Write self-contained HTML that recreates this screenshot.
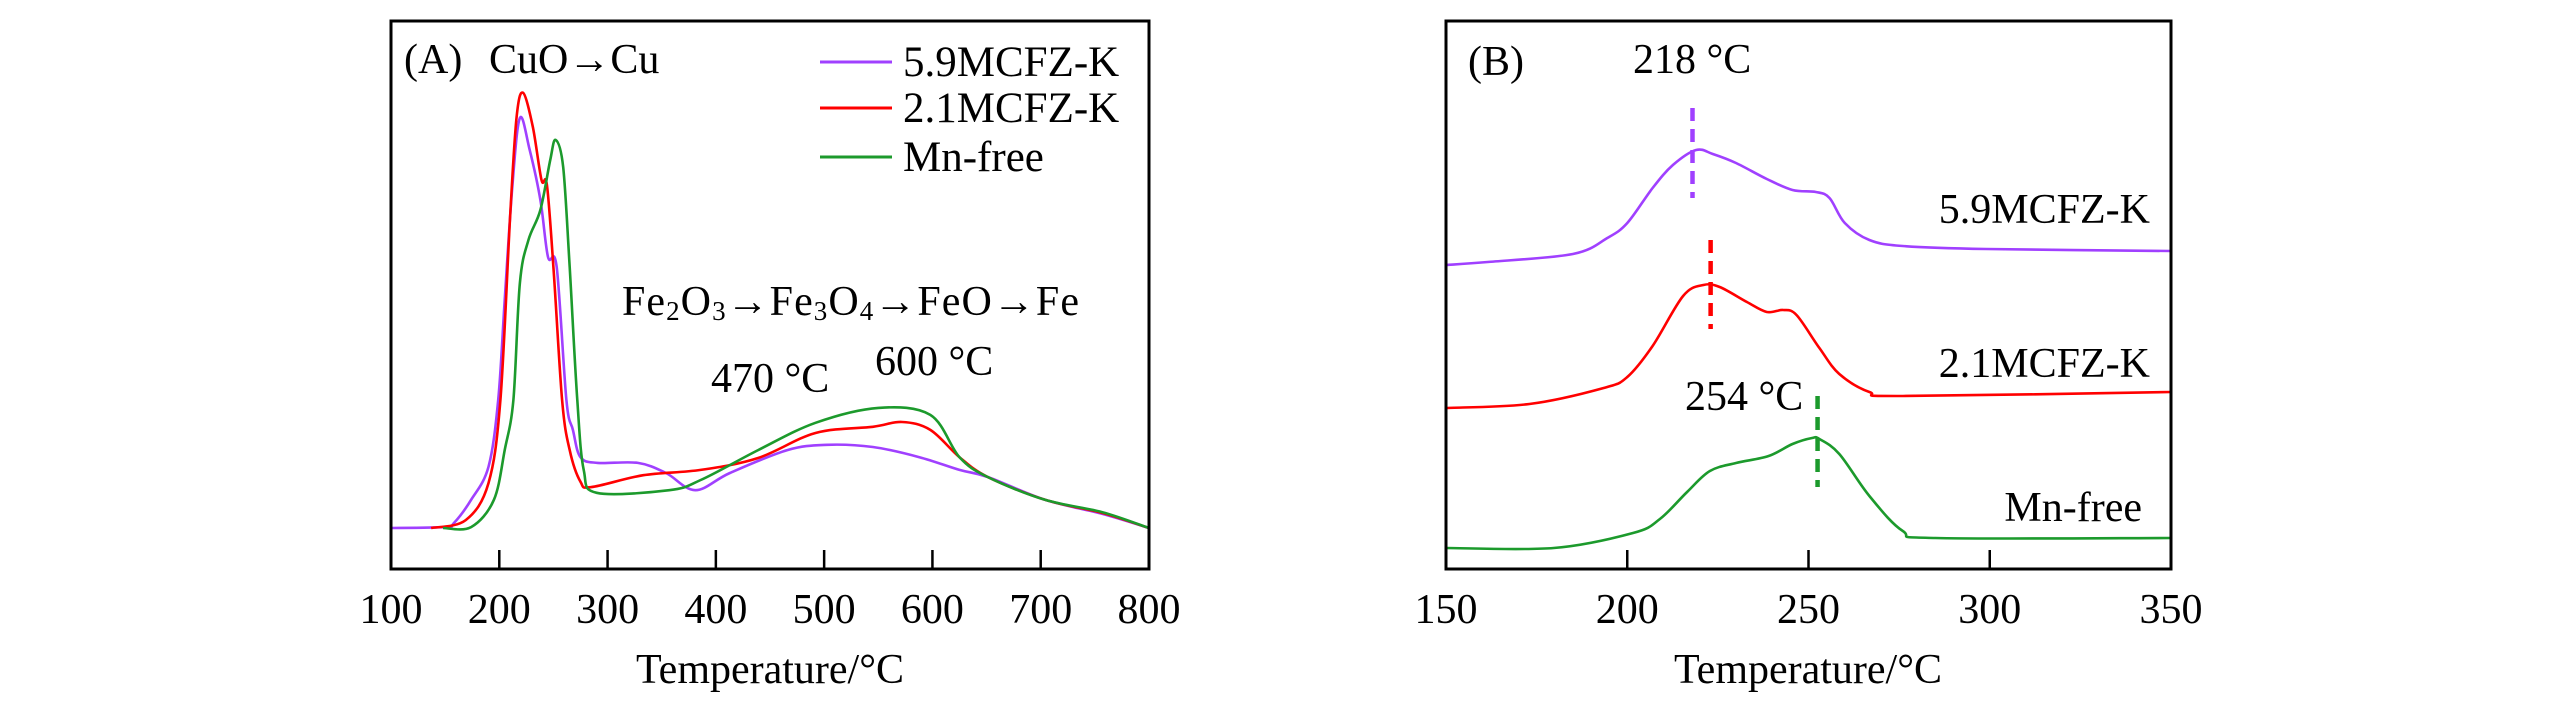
<!DOCTYPE html>
<html><head><meta charset="utf-8"><style>
html,body{margin:0;padding:0;background:#fff;}
svg{display:block;font-family:"Liberation Serif","Times New Roman",serif;}
</style></head><body>
<svg id="chart" width="2567" height="716" viewBox="0 0 2567 716" xmlns="http://www.w3.org/2000/svg">
<rect width="2567" height="716" fill="#fff"/>
<g id="panelA"></g>
<g id="panelB"></g>
</svg>
<script>
// ---- Panel A data ----
const aTicks = [100,200,300,400,500,600,700,800];
const aPurpleT = [100,150,158,174,190,199,205,212,219,228,238,245,253,262,268,275,291,328,354,381,413,466,503,545,588,625,651,704,757,800];
const aPurpleV = [0,0.2,1.1,6.4,13.9,29.1,51.8,77.5,93.2,86.0,74.5,61.6,59.3,29.1,22.3,16.1,14.8,14.8,12.5,8.6,12.5,17.7,18.9,18.4,16.1,13.2,11.6,6.4,3.2,0];
const aRedT = [137,169,190,201,210,216,222,231,239,244,250,258,265,275,285,333,386,439,492,545,572,598,625,651,704,757,800];
const aRedV = [0,1.8,10.2,29.1,70.7,93.4,98.9,91.1,79.1,78.0,59.3,29.1,17.7,10.5,9.3,12.0,13.2,15.9,21.6,23.0,24.1,22.3,16.1,11.6,6.4,3.4,0];
const aGreenT = [148,174,195,205,213,219,227,238,247,252,259,265,272,278,290,357,386,439,492,550,598,625,651,704,757,800];
const aGreenV = [0,0.2,6.4,17.7,29.1,55.7,65.5,72.3,83.6,88.2,82.0,59.3,29.1,13.2,8.0,8.6,10.9,17.7,23.9,27.3,25.7,16.1,11.6,6.4,3.6,0];
// ---- Panel B data ----
const bTicks = [150,200,250,300,350];
const bPurpleT = [150,161.5,185,194.5,200,207,212.6,219,223.6,230,238.5,245.6,252,255.8,260,266.8,276,299,350];
const bPurpleV = [153,154.5,158.5,166.5,174,191.5,203,210.5,208.5,204,196,190.5,189.5,186.5,174,165.5,162.5,161,160];
const bRedT = [150,173,193.5,200,207,215.4,221,225.5,233,238.5,243,246.7,253,258.5,266.8,276,350];
const bRedV = [81.5,83.5,91.5,97,112.5,137.5,143,142,134.5,129.5,130.5,128,111.5,98.5,89.5,87.5,89.5];
const bGreenT = [150,179.7,201.6,209,216.5,222.8,230,239,245.6,251,253,258.5,266.8,276,285,350];
const bGreenV = [11.5,11.5,19,26,39.5,50,54,57.5,63.5,66.5,66,58.5,37.5,20,16.5,16.5];
const bPeakT = [218,223,252.5];
const bPeakLo = [186.5,121,42];
const bPeakHi = [231.5,165.5,87.5];

const NS="http://www.w3.org/2000/svg";
const PURPLE="#a040ff", RED="#ff0000", GREEN="#1c9a2c";
function mk(parent,tag,attrs){const e=document.createElementNS(NS,tag);for(const k in attrs)e.setAttribute(k,attrs[k]);parent.appendChild(e);return e;}
function txt(parent,x,y,s,anchor,fs){const t=mk(parent,'text',{x:x,y:y,'font-size':fs||42,'text-anchor':anchor||'start',fill:'#000'});t.textContent=s;return t;}

const AX0=391, AX1=1149, AY0=21, AY1=569;
const xA = t => AX0 + (t-100)/700*(AX1-AX0);
const yA = v => 528 - v*4.4;
const BX0=1446, BX1=2171;
const xB = t => BX0 + (t-150)/200*(BX1-BX0);
const yB = v => 571 - v*2;

const gA=document.getElementById('panelA'), gB=document.getElementById('panelB');

function smoothPath(pts){
  let d='M'+pts[0][0].toFixed(1)+','+pts[0][1].toFixed(1);
  for(let i=0;i<pts.length-1;i++){
    const p0=pts[Math.max(0,i-1)],p1=pts[i],p2=pts[i+1],p3=pts[Math.min(pts.length-1,i+2)];
    const c1=[p1[0]+(p2[0]-p0[0])/6,p1[1]+(p2[1]-p0[1])/6];
    const c2=[p2[0]-(p3[0]-p1[0])/6,p2[1]-(p3[1]-p1[1])/6];
    d+=' C'+c1[0].toFixed(1)+','+c1[1].toFixed(1)+' '+c2[0].toFixed(1)+','+c2[1].toFixed(1)+' '+p2[0].toFixed(1)+','+p2[1].toFixed(1);
  }
  return d;
}
function line(g,xs,ys,xf,yf,color,name){
  const pts=xs.map((t,i)=>[xf(t),yf(ys[i])]);
  const p=mk(g,'path',{d:smoothPath(pts),fill:'none',stroke:color,'stroke-width':2.6,'stroke-linejoin':'round'});
  
  
}

// ---- Panel A ----
line(gA,aPurpleT,aPurpleV,xA,yA,PURPLE,'series-5.9mcfz-k-a');
line(gA,aRedT,aRedV,xA,yA,RED,'series-2.1mcfz-k-a');
line(gA,aGreenT,aGreenV,xA,yA,GREEN,'series-mn-free-a');
const frA=mk(gA,'rect',{x:AX0,y:AY0,width:AX1-AX0,height:AY1-AY0,fill:'none',stroke:'#000','stroke-width':3});


aTicks.forEach(t=>{
  if(t>100&&t<800){const tk=mk(gA,'line',{x1:xA(t),x2:xA(t),y1:AY1,y2:AY1-19,stroke:'#000','stroke-width':2.5});
  
  }
  const l=txt(gA,xA(t),623,String(t),'middle');
  
  
});
let t;
t=txt(gA,770,683,'Temperature/°C','middle');


t=txt(gA,404,73,'(A)');


t=txt(gA,489,73,'CuO→Cu');


t=mk(gA,'text',{x:622,y:315,'font-size':42,fill:'#000',textLength:457,lengthAdjust:'spacing'});
t.innerHTML='Fe<tspan font-size="27" dy="5">2</tspan><tspan dy="-5">O</tspan><tspan font-size="27" dy="5">3</tspan><tspan dy="-5">→Fe</tspan><tspan font-size="27" dy="5">3</tspan><tspan dy="-5">O</tspan><tspan font-size="27" dy="5">4</tspan><tspan dy="-5">→FeO→Fe</tspan>';


t=txt(gA,711,392,'470 °C');


t=txt(gA,875,375,'600 °C');


const legNames=['5.9MCFZ-K','2.1MCFZ-K','Mn-free'], legCols=[PURPLE,RED,GREEN], legY=[62,108,157];
legNames.forEach((n,i)=>{
  const g=mk(gA,'g',{});
  
  
  mk(g,'line',{x1:820,x2:892,y1:legY[i],y2:legY[i],stroke:legCols[i],'stroke-width':3});
  txt(g,903,legY[i]+14,n,'start',43);
});

// ---- Panel B ----
line(gB,bPurpleT,bPurpleV,xB,yB,PURPLE,'series-5.9mcfz-k-b');
line(gB,bRedT,bRedV,xB,yB,RED,'series-2.1mcfz-k-b');
line(gB,bGreenT,bGreenV,xB,yB,GREEN,'series-mn-free-b');
bPeakT.forEach((p,i)=>{
  const d=mk(gB,'line',{x1:xB(p),x2:xB(p),y1:yB(bPeakHi[i]),y2:yB(bPeakLo[i]),stroke:[PURPLE,RED,GREEN][i],'stroke-width':4.5,'stroke-dasharray':'13 8'});
  
  
});
const frB=mk(gB,'rect',{x:BX0,y:AY0,width:BX1-BX0,height:AY1-AY0,fill:'none',stroke:'#000','stroke-width':3});


bTicks.forEach(v=>{
  if(v>150&&v<350){const tk=mk(gB,'line',{x1:xB(v),x2:xB(v),y1:AY1,y2:AY1-19,stroke:'#000','stroke-width':2.5});
  
  }
  const l=txt(gB,xB(v),623,String(v),'middle');
  
  
});
t=txt(gB,1808,683,'Temperature/°C','middle');


t=txt(gB,1468,75,'(B)');


t=txt(gB,1633,73,'218 °C');


t=txt(gB,1685,410,'254 °C');


t=txt(gB,2150,223,'5.9MCFZ-K','end');


t=txt(gB,2150,377,'2.1MCFZ-K','end');


t=txt(gB,2142,521,'Mn-free','end');


</script>
</body></html>
